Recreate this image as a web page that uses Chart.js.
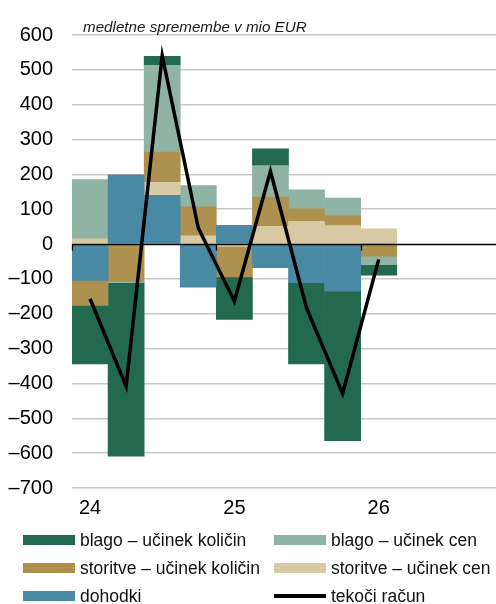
<!DOCTYPE html>
<html>
<head>
<meta charset="utf-8">
<script src="https://cdn.jsdelivr.net/npm/chart.js@4.4.1/dist/chart.umd.min.js"></script>
<style>
  html, body { margin: 0; padding: 0; background: #fff; overflow: hidden; width: 496px; height: 604px; }
  #wrap { position: absolute; left: 0; top: 0; width: 505px; height: 604px; }
  #sub { position: absolute; left: 83px; top: 19px; font: italic 15.2px "Liberation Sans", Arial, sans-serif; color: #1a1a1a; line-height: 16px; white-space: nowrap; }
  .lg { position: absolute; font: 17.5px "Liberation Sans", Arial, sans-serif; color: #111; line-height: 20px; white-space: nowrap; }
  .sw { position: absolute; width: 52px; height: 10px; }
  .ln { position: absolute; width: 52px; height: 3.5px; background: #000; }
</style>
</head>
<body>
<div id="wrap"><canvas id="c" width="505" height="604"></canvas></div>
<div id="sub">medletne spremembe v mio EUR</div>
<div id="legend"></div>
<script>
// ---- data ----
const quarters = ['24Q1','24Q2','24Q3','24Q4','25Q1','25Q2','25Q3','25Q4','26Q1','26Q2','26Q3','26Q4'];
const yearLabels = ['24','','','','25','','','','26','','',''];
const dohodki      = [-104, 199, 140, -123,  54, -68, -111, -135,   0];
const storitveCen  = [  15,   0,  37,   24,  -7,  51,   65,   53,  44];
const storitveKol  = [ -72,-107,  87,   83, -87,  84,   36,   29, -35];
const blagoCen     = [ 170,  -4, 249,   61,   0,  90,   55,   50, -24];
const blagoKol     = [-168,-498,  26,    0,-122,  48, -233, -429, -30];
const tekociRacun  = [-157,-408, 541,   46,-164, 209, -183, -429, -44];
const yTicks = [-700,-600,-500,-400,-300,-200,-100,0,100,200,300,400,500,600];

const COL = {
  blagoKol: '#22694f',
  blagoCen: '#8fb4a5',
  storKol:  '#ae904f',
  storCen:  '#d8c9a5',
  doh:      '#4a89a3'
};

const NARROW = "'Liberation Sans Narrow', 'Arial Narrow', 'Liberation Sans', Arial, sans-serif";

const zeroLine = {
  id: 'zeroLine',
  afterDatasetsDraw(chart) {
    const {ctx, chartArea, scales} = chart;
    const y0 = Math.round(scales.y.getPixelForValue(0)) + 0.5;
    ctx.save();
    ctx.strokeStyle = '#000';
    ctx.lineWidth = 1.3;
    ctx.beginPath();
    ctx.moveTo(chartArea.left, y0);
    ctx.lineTo(chartArea.right, y0);
    const w = scales.x.getPixelForValue(1) - scales.x.getPixelForValue(0);
    quarters.forEach((q, i) => {
      if (q.endsWith('Q1')) {
        const xb = Math.round(scales.x.getPixelForValue(i) - w / 2) + 0.5;
        ctx.moveTo(xb, y0);
        ctx.lineTo(xb, y0 + 6);
      }
    });
    ctx.stroke();
    ctx.restore();
  }
};

function bar(label, data, color) {
  return { type: 'bar', label, data, backgroundColor: color, borderWidth: 0,
           stack: 'a', order: 1, categoryPercentage: 1.0, barPercentage: 1.0 };
}

new Chart(document.getElementById('c'), {
  data: {
    labels: quarters,
    datasets: [
      { type: 'line', label: 'tekoči račun', data: tekociRacun, borderColor: '#000',
        borderWidth: 3.5, pointRadius: 0, tension: 0, fill: false, stack: 'line', order: 0 },
      bar('dohodki', dohodki, COL.doh),
      bar('storitve – učinek cen', storitveCen, COL.storCen),
      bar('storitve – učinek količin', storitveKol, COL.storKol),
      bar('blago – učinek cen', blagoCen, COL.blagoCen),
      bar('blago – učinek količin', blagoKol, COL.blagoKol)
    ]
  },
  options: {
    responsive: false,
    animation: false,
    devicePixelRatio: 1,
    layout: { padding: { left: 0, right: 0, top: 35, bottom: 86 } },
    plugins: { legend: { display: false }, tooltip: { enabled: false }, title: { display: false } },
    scales: {
      x: {
        stacked: true,
        grid: { display: false, drawTicks: false },
        border: { display: false },
        ticks: {
          autoSkip: false, maxRotation: 0, minRotation: 0, padding: 8,
          color: '#000', font: { family: NARROW, size: 20 },
          callback: (v, i) => yearLabels[i]
        },
        afterFit: s => { s.height = 30; }
      },
      y: {
        stacked: true,
        min: -700, max: 600,
        afterBuildTicks: s => { s.ticks = yTicks.map(v => ({ value: v })); },
        grid: {
          drawTicks: false,
          lineWidth: 1.5,
          color: c => (c.tick && c.tick.value === 0) ? 'rgba(0,0,0,0)' : '#c8c8c8'
        },
        border: { display: false },
        ticks: {
          padding: 19, color: '#000', font: { family: NARROW, size: 20 },
          callback: v => String(v).replace('-', '–')
        },
        afterFit: s => { s.width = 72; }
      }
    }
  },
  plugins: [zeroLine]
});

// ---- HTML legend ----
const legendItems = [
  { text: 'blago – učinek količin', color: COL.blagoKol, col: 0, row: 0 },
  { text: 'blago – učinek cen', color: COL.blagoCen, col: 1, row: 0 },
  { text: 'storitve – učinek količin', color: COL.storKol, col: 0, row: 1 },
  { text: 'storitve – učinek cen', color: COL.storCen, col: 1, row: 1 },
  { text: 'dohodki', color: COL.doh, col: 0, row: 2 },
  { text: 'tekoči račun', line: true, col: 1, row: 2 }
];
const lg = document.getElementById('legend');
const colX = [23, 274], rowY = [539.5, 567.5, 596];
legendItems.forEach(it => {
  const sw = document.createElement('div');
  if (it.line) {
    sw.className = 'ln';
    sw.style.left = colX[it.col] + 'px';
    sw.style.top = (rowY[it.row] - 1.75) + 'px';
  } else {
    sw.className = 'sw';
    sw.style.left = colX[it.col] + 'px';
    sw.style.top = (rowY[it.row] - 5) + 'px';
    sw.style.background = it.color;
  }
  lg.appendChild(sw);
  const t = document.createElement('div');
  t.className = 'lg';
  t.textContent = it.text;
  t.style.left = (colX[it.col] + 57) + 'px';
  t.style.top = (rowY[it.row] - 10) + 'px';
  lg.appendChild(t);
});
</script>
</body>
</html>
